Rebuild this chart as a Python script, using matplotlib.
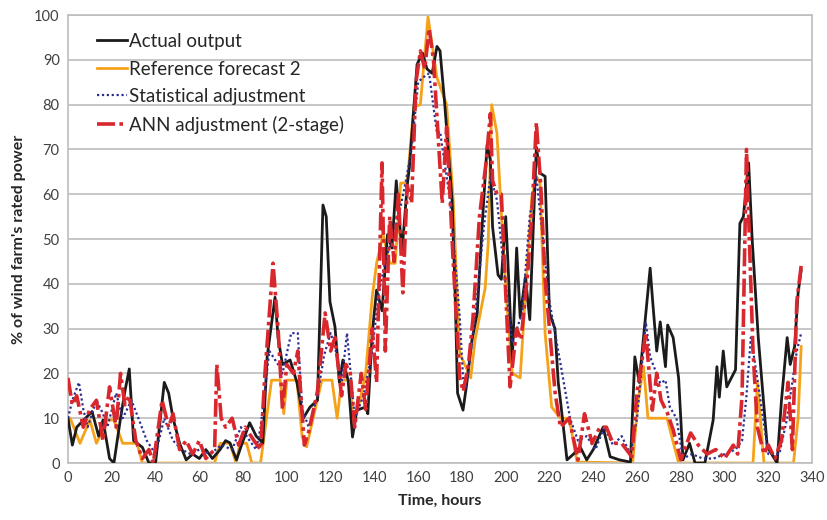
import matplotlib
matplotlib.use("Agg")
import matplotlib.pyplot as plt

plt.rcParams['font.family'] = ['Lato', 'DejaVu Sans']

# ---------------- data (hours, % of rated power) ----------------
act_h = [0, 2, 4, 6, 8, 11, 14, 16, 19, 21,
         24, 26, 28, 30, 34, 37, 40, 44, 46, 48,
         51, 54, 57, 60, 63, 66, 69.5, 72, 74, 77,
         79, 83, 86, 88, 89, 91, 94.6, 96, 98, 101.5,
         104.6, 107.5, 110.6, 114, 116.5, 118, 119.7, 122, 124, 125.6,
         128, 130, 132, 136, 137, 139, 141, 143.5, 146, 148,
         150, 152.6, 155, 156, 159.5, 162, 164, 166.4, 168.6, 170,
         172, 175.5, 177, 178, 180.5, 182, 184.6, 187, 189, 191.5,
         193, 194, 196.5, 198, 200, 201, 203, 205, 206.6, 209,
         211, 212.5, 214, 215.7, 218, 220, 222.5, 224, 225, 228,
         231, 234, 237, 240, 244.5, 247.7, 252, 257, 259, 261,
         266, 267, 269, 270.6, 273, 274, 276.5, 279, 281, 284,
         286.5, 291, 294.8, 296.5, 297.6, 299.4, 301, 305, 307, 308.6,
         311, 312.6, 315.4, 319.5, 324, 326, 328.6, 330, 332, 333.6,
         335]
act_v = [10, 4, 8, 9, 10, 11.5, 6, 9.6, 1, 0,
         10, 16, 21, 5, 3.5, 0, 0, 18, 15.6, 10,
         4.4, 0.7, 2, 1, 3, 1, 3, 5, 4.5, 0.7,
         3.6, 9, 6, 5, 4.4, 23.7, 37, 28, 22, 23,
         18, 10, 12.5, 14, 57.6, 55, 36, 30.4, 18, 23,
         18.5, 5.8, 11.8, 12.5, 11, 29, 38.6, 34, 51, 48,
         63, 47, 62, 66, 89, 91.5, 88, 87, 93, 92,
         81, 58.7, 36, 15.6, 11.8, 17, 27.5, 33.5, 51, 71,
         67.6, 52.7, 42, 41, 55, 45, 23, 48, 32.6, 41.5,
         32, 51, 70.5, 64.7, 64, 33.5, 30, 18, 14, 0.7,
         2, 3.6, 0.7, 3, 8, 1.4, 0.7, 0.2, 23.7, 18,
         43.5, 37, 25, 31.5, 21.5, 30.8, 28, 19, 0.7, 4.4,
         0, 0, 9.6, 21.5, 14.7, 25, 17, 20.8, 53.5, 55,
         67, 50, 28, 3.6, 0, 14, 28, 22, 26, 38,
         43]

ref_h = [0, 1, 5.5, 10, 13, 18, 21, 25, 31.5, 34,
         67, 69.5, 74, 76.8, 78.6, 81.6, 84, 88, 93, 97,
         98.6, 100, 104.6, 107, 109, 113.6, 116, 120.6, 123, 125,
         129, 130, 132.5, 136, 139, 141, 144, 147, 149.5, 152,
         155, 158, 161, 164.5, 168.6, 173, 176, 179, 184, 186,
         190.6, 192, 193.6, 196, 198, 200.6, 203, 206.6, 209.8, 212,
         214, 215.7, 218, 221, 225, 228.6, 230, 232.6, 258, 260.5,
         263, 265, 273.7, 279, 313, 315, 318, 331.5, 333.6, 335]
ref_v = [10, 10, 4.4, 9.6, 4.4, 9.6, 9.6, 4.4, 4.4, 0,
         0, 4.4, 4.4, 0, 4.4, 4.4, 0, 0, 18.5, 18.5,
         11, 18.5, 18.5, 5.8, 3.6, 13.4, 18.5, 18.5, 10, 18.5,
         18.5, 10, 12, 20, 37, 44.6, 51, 44.6, 44.6, 62.5,
         62.5, 79.5, 80, 99.6, 86, 80, 58.7, 24.5, 19, 27.5,
         39, 49, 80, 73.6, 55.8, 35, 20, 19, 43.8, 59.4,
         64, 62.5, 29, 12.5, 10, 10, 7.4, 0.2, 0, 14,
         21.5, 10, 10, 0, 0, 18, 0, 0, 10, 26]

stat_h = [0, 2, 5, 7, 9, 13, 16, 18, 22, 25,
          29, 32.5, 36, 40, 44, 48, 52, 56, 60, 65,
          70, 75, 79, 83, 86, 88, 92, 96, 98, 102,
          105, 107, 110, 114, 117, 120, 122, 125, 127.5, 131,
          135, 139, 142, 145, 148, 151, 154, 157, 160, 162,
          165, 168.6, 170, 174.6, 179, 180.5, 182, 186, 190, 193,
          196, 199, 203, 207.5, 211, 214, 217, 220, 224, 229.4,
          233, 237, 241, 245, 249, 253, 257, 260, 264, 266,
          270.6, 273, 275, 278, 281, 285, 290, 295, 300, 305,
          308, 310, 312, 314, 317, 320, 325, 328.6, 333, 335]
stat_v = [10, 14, 18, 12, 8, 14, 11, 8, 15.6, 10,
          14, 9.6, 5, 2, 10, 5, 3, 2, 3, 2,
          4, 3, 8, 5, 3, 8, 25, 22, 20, 29,
          29, 12, 8, 15, 24, 29, 26, 18, 29, 10,
          15, 25, 38, 45, 50, 55, 62, 70, 85, 86,
          87, 73.6, 74, 58.7, 32.6, 19, 17, 32.6, 52.7, 64,
          58.7, 44, 26.8, 33.5, 55, 64, 50, 36, 25, 10,
          5, 6, 3, 8, 4, 6, 2, 10, 31.5, 23.7,
          17.8, 18.5, 12.5, 10, 1, 2, 1, 1, 2, 3,
          5, 15, 28, 22, 12, 2, 2, 10, 25, 29]

ann_h = [0, 2, 4, 7, 10, 13, 16, 19, 22, 24,
         26, 28, 31, 34, 37, 39, 43, 46, 48, 51,
         54, 57, 60, 63, 67, 68, 70, 72, 75, 78,
         81, 85, 88, 90, 93.7, 96, 98, 100, 103, 105,
         108, 110, 114, 117.5, 120, 122, 125, 127, 129, 131,
         134, 136, 139, 141, 143.5, 145, 147, 149, 151, 153,
         155, 157, 159, 161, 163, 165, 167, 169, 171, 173,
         176, 179, 180.6, 183, 185, 188, 191, 193, 194, 196,
         198, 200, 202, 205, 207, 210, 212, 214, 216, 218,
         220, 222.6, 225, 229, 233, 236, 239.5, 243, 246, 249,
         253, 257.6, 260, 262, 264, 267, 269, 271, 274, 276.5,
         280, 284.5, 288, 292, 296, 300, 304, 306, 308, 310,
         313, 315, 318, 320, 323, 326, 329, 331, 333, 335]
ann_v = [19, 13, 15, 8, 12, 14, 5, 17, 8, 20,
         13, 15, 5, 1, 3, 0, 14, 8, 11, 3,
         5, 2, 5, 1, 3, 22, 10, 8, 10, 4,
         8, 5, 3, 20, 44.6, 30, 12, 22, 20, 25,
         4, 7, 16, 33.5, 25, 28, 15, 22, 20, 8,
         20, 12, 30, 18, 67, 25, 55, 45, 60, 38,
         62, 58, 85, 92, 88, 97, 90, 74, 58, 75,
         45, 19, 16, 22, 32, 55, 67, 78, 63, 60,
         60, 38, 17, 30, 27.5, 42, 56, 76, 62, 41,
         30, 15.6, 8, 10, 0.7, 11, 4.4, 8, 8, 4.4,
         4.4, 1.4, 16, 22, 29, 11.8, 20, 14, 11, 7.4,
         0.7, 6.7, 4, 2, 3, 1, 4, 2, 15, 70,
         25, 8, 2, 4, 1, 5, 18, 3, 36, 44]

labels = ["Actual output", "Reference forecast 2",
          "Statistical adjustment", "ANN adjustment (2-stage)"]
x_ticks = list(range(0, 341, 20))
y_ticks = list(range(0, 101, 10))

# ---------------- figure ----------------
fig = plt.figure(figsize=(8.27, 5.20), dpi=100)
ax = fig.add_axes([0.0822, 0.1096, 0.8998, 0.8614])

ax.plot(ref_h, ref_v, color='#f5a21b', lw=2.0, zorder=2, label=labels[1])
ax.plot(act_h, act_v, color='#1b1b1b', lw=2.0, zorder=3, label=labels[0])
ax.plot(stat_h, stat_v, color='#2b2f8f', lw=1.6, ls=(0, (1, 1.2)), zorder=4,
        label=labels[2])
ax.plot(ann_h, ann_v, color='#d8282e', lw=2.6, ls=(0, (5, 1.2, 1, 1.2)), zorder=5,
        label=labels[3])

ax.set_xlim(0, 340)
ax.set_ylim(0, 100)
ax.set_xticks(x_ticks)
ax.set_yticks(y_ticks)
ax.tick_params(length=0, labelsize=10.5, colors='#404040', pad=6)
ax.yaxis.grid(True, color='#bdbdbd', lw=1.2)
ax.set_axisbelow(True)
for s in ax.spines.values():
    s.set_color('#bdbdbd')
    s.set_linewidth(1.2)

ax.set_xlabel("Time, hours", fontsize=11.5, fontweight='bold', color='#262626',
              labelpad=6)
ax.set_ylabel("% of wind farm's rated power", fontsize=11.5, fontweight='bold',
              color='#262626', labelpad=6)

h, l = ax.get_legend_handles_labels()
order = [1, 0, 2, 3]
leg = ax.legend([h[i] for i in order], [l[i] for i in order],
                loc='upper left', bbox_to_anchor=(0.024, 0.985), frameon=False,
                fontsize=13.5, handlelength=1.6, handletextpad=0.1,
                labelspacing=0.56, borderaxespad=0.2)
for t in leg.get_texts():
    t.set_color('#262626')

fig.savefig("out.png", dpi=100)
